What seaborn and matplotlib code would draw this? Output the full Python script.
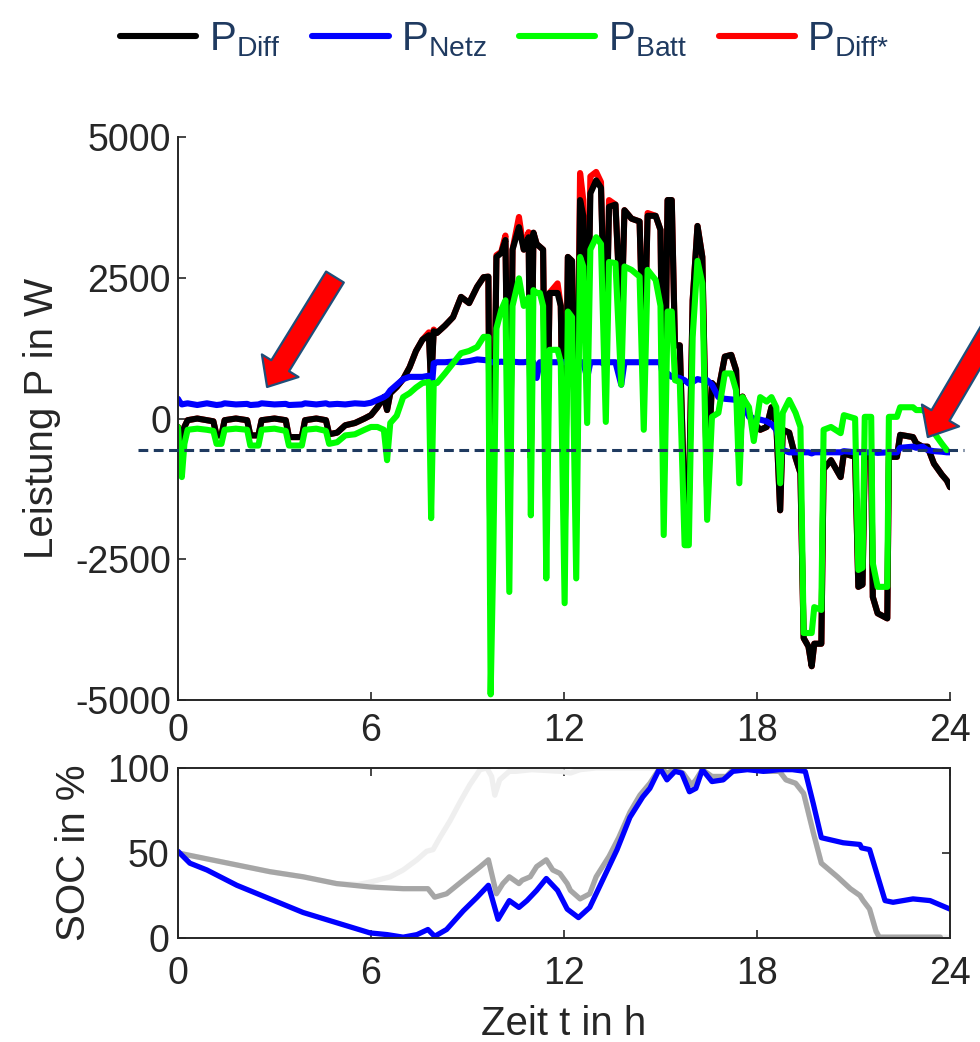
import numpy as np
import pandas as pd
import matplotlib
matplotlib.use("Agg")
import matplotlib.pyplot as plt
from matplotlib.lines import Line2D
import seaborn as sns

# ---------------- data: power (W) over time (h) ----------------
t_p = [0.00, 0.05, 0.12, 0.20, 0.30, 0.60, 0.90, 1.10, 1.20, 1.35, 1.45, 1.80, 2.15, 2.25, 2.50,
       2.60, 3.00, 3.35, 3.45, 3.85, 3.95, 4.30, 4.60, 4.70, 4.95, 5.20, 5.50, 5.80, 6.00, 6.20,
       6.40, 6.50, 6.60, 6.80, 7.00, 7.20, 7.40, 7.60, 7.80, 7.87, 7.95, 8.05, 8.30, 8.55, 8.80,
       9.05, 9.30, 9.50, 9.65, 9.72, 9.80, 9.90, 10.05, 10.18, 10.30, 10.40, 10.60, 10.75, 10.90,
       10.97, 11.05, 11.15, 11.25, 11.35, 11.45, 11.55, 11.80, 11.90, 12.02, 12.12, 12.25, 12.38,
       12.50, 12.60, 12.72, 12.82, 13.00, 13.15, 13.30, 13.40, 13.60, 13.78, 13.88, 14.10, 14.35,
       14.48, 14.60, 14.85, 15.00, 15.10, 15.22, 15.35, 15.45, 15.60, 15.75, 15.88, 16.00, 16.15,
       16.30, 16.45, 16.60, 16.80, 17.00, 17.20, 17.35, 17.45, 17.55, 17.75, 17.90, 18.10, 18.30,
       18.45, 18.60, 18.72, 18.80, 19.00, 19.20, 19.35, 19.45, 19.60, 19.70, 19.78, 20.00, 20.07,
       20.30, 20.60, 20.70, 21.05, 21.15, 21.28, 21.35, 21.55, 21.60, 21.75, 22.05, 22.10, 22.35,
       22.45, 22.85, 22.95, 23.15, 23.30, 23.50, 23.75, 23.90, 24.00]

p_diff = [-150, -300, -450, -150, -30, 0, -30, -50, -300, -300, -30, 0, -30, -300, -300,
          -30, 0, -30, -330, -330, -30, 0, -30, -280, -250, -120, -80, 0, 60, 200,
          380, 150, 450, 560, 700, 910, 1200, 1400, 1480, 560, 1550, 1520, 1650, 1800, 2160,
          2050, 2340, 2510, 2520, -3300, -1500, 2870, 2940, 3170, -2100, 3000, 3400, 3000, 3220,
          -700, 3300, 3100, 3050, 3000, -1800, 2230, 2230, 2000, -2300, 2870, 2800, -1800,
          3880, 3600, 650, 4000, 4230, 4100, 900, 3760, 3800, 1600, 3700, 3550, 3500,
          800, 3600, 3600, 3350, -1300, 3880, 3880, 1300, 1300, -1600, -1500, 2100, 3420,
          2870, -1300, 630, 500, 1100, 1130, 860, -800, 390, 100, -80, -200, -150,
          200, -100, -1630, -200, -250, -700, -970, -3900, -4050, -4400, -4000, -4000, -900,
          -740, -1040, -620, -680, -2990, -2950, -680, -680, -3170, -3460, -3550, -680, -680,
          -290, -330, -440, -500, -500, -800, -1000, -1100, -1220]

p_diff_star = [-150, -300, -450, -150, -30, 0, -30, -50, -300, -300, -30, 0, -30, -300, -300,
               -30, 0, -30, -330, -330, -30, 0, -30, -280, -250, -120, -80, 0, 60, 200,
               380, 150, 450, 560, 700, 910, 1200, 1400, 1530, 600, 1580, 1520, 1650, 1800, 2160,
               2050, 2340, 2510, 2520, -3300, -1500, 2900, 2960, 3250, -2100, 3000, 3580, 3000, 3310,
               -700, 3300, 3100, 3050, 3000, -1800, 2230, 2400, 2000, -2300, 2870, 2800, -1800,
               4360, 3880, 650, 4300, 4380, 4200, 900, 3880, 3800, 1600, 3700, 3550, 3500,
               800, 3650, 3600, 3350, -1300, 3880, 3880, 1300, 1300, -1600, -1500, 2100, 3420,
               2870, -1300, 630, 500, 1100, 1130, 860, -800, 390, 100, -80, -200, -150,
               200, -100, -1630, -200, -250, -700, -970, -3900, -4050, -4400, -4000, -4000, -900,
               -740, -1040, -620, -680, -2990, -2950, -680, -680, -3170, -3460, -3550, -680, -680,
               -290, -330, -440, -500, -500, -800, -1000, -1100, -1220]

p_netz = [350, 300, 250, 260, 270, 240, 270, 250, 240, 250, 270, 250, 260, 240, 250,
          270, 250, 260, 240, 250, 270, 250, 270, 250, 260, 250, 270, 260, 280, 330,
          380, 420, 500, 600, 700, 740, 740, 740, 760, 400, 980, 1000, 1000, 1010, 1000,
          1020, 1050, 1040, 1030, 1000, 1000, 1000, 1010, 1000, 1000, 1010, 1000, 1000, 1010,
          1000, 1000, 720, 1000, 1000, 1000, 1000, 1000, 1000, 1000, 1000, 1000, 1000,
          1000, 1000, 720, 1000, 1000, 1000, 950, 1000, 1000, 600, 1000, 1000, 1000,
          1000, 1000, 1000, 1000, 680, 800, 740, 740, 720, 680, 620, 650, 700,
          680, 680, 600, 380, 350, 340, 330, 330, 320, 30, 0, -20, -50,
          -100, -200, -450, -560, -600, -600, -600, -600, -600, -620, -600, -600, -600,
          -600, -600, -580, -600, -600, -600, -600, -600, -600, -610, -600, -600, -600,
          -520, -500, -520, -500, -560, -580, -590, -600, -600]

p_batt = [-150, -600, -1040, -450, -200, -180, -200, -220, -450, -450, -200, -180, -200, -480, -480,
          -200, -180, -220, -480, -480, -200, -180, -220, -450, -420, -300, -280, -200, -150, -150,
          -200, -740, -80, 50, 380, 450, 550, 630, 650, -1770, 630, 630, 800, 980, 1160,
          1200, 1270, 1450, 1450, -4900, -2500, 1600, 1930, 2100, -3080, 2000, 2490, 2000, 2150,
          -1720, 2280, 2230, 2230, 2000, -2840, 1220, 1220, 1000, -3280, 1900, 1800, -2840,
          2870, 2700, -80, 3000, 3220, 3100, -60, 2780, 2760, 600, 2700, 2640, 2520,
          -200, 2640, 2460, 2000, -2070, 1900, 1900, 680, 650, -2250, -2250, 1450, 2800,
          2400, -1800, 30, 100, 800, 800, 500, -1150, 380, 200, -400, 380, 300,
          380, 200, -1150, 100, 330, 100, -150, -3810, -3810, -3810, -3350, -3400, -200,
          -150, -260, 60, 0, -2690, -2650, 30, 30, -2570, -2990, -2990, 30, 30,
          200, 200, 150, 150, 90, -250, -450, -560, np.nan]

p_ref_line = -560  # dashed reference level

# ---------------- data: state of charge (%) ----------------
t_soc_blue = [0, 0.37, 0.9, 1.83, 2.86, 3.89, 4.93, 5.97, 6.5, 7.0, 7.43, 7.77, 7.98, 8.35, 8.87,
              9.3, 9.65, 9.95, 10.3, 10.6, 10.85, 11.15, 11.45, 11.8, 12.1, 12.45, 12.8, 13.2,
              13.65, 14.05, 14.45, 14.67, 14.98, 15.2, 15.45, 15.66, 15.9, 16.1, 16.3, 16.6,
              16.95, 17.25, 17.7, 18.2, 18.7, 19.1, 19.5, 19.75, 20.0, 20.68, 21.2, 21.25, 21.5,
              21.98, 22.23, 22.85, 23.38, 24.0]
soc_blue = [51, 44, 40, 31, 23, 15, 9, 3, 2, 0.5, 2, 5, 1, 5, 16,
            24, 31, 11, 22, 18, 22, 28, 35, 28, 17, 12, 18, 34,
            52, 71, 83, 88, 100, 93, 98, 97, 86, 88, 99, 92,
            93, 98, 99, 98, 99, 99, 98, 79, 59, 56, 55, 53, 52,
            22, 21, 23, 22, 17]

t_soc_gray = [0, 0.78, 1.82, 2.86, 3.89, 4.93, 5.97, 7.0, 7.77, 7.98, 8.35, 8.87, 9.4, 9.65,
              9.9, 10.1, 10.3, 10.6, 10.7, 10.95, 11.15, 11.45, 11.65, 11.87, 12.1, 12.2, 12.5,
              12.8, 13.0, 13.2, 13.4, 13.7, 14.05, 14.36, 14.67, 14.98, 15.2, 15.45, 15.7, 15.97,
              16.1, 16.3, 16.6, 17.05, 17.25, 17.7, 18.3, 18.7, 18.9, 19.2, 19.45, 19.75, 20.0,
              20.5, 20.9, 21.2, 21.3, 21.5, 21.7, 21.8, 23.7]
soc_gray = [50, 47, 43, 39, 36, 32, 30, 29, 29, 24, 26, 34, 42, 46,
            26, 32, 36, 32, 34, 36, 42, 46, 40, 38, 32, 28, 23,
            26, 36, 42, 48, 59, 74, 84, 91, 100, 97, 99, 97, 90,
            93, 99, 95, 95, 99, 100, 98, 98, 93, 91, 85, 62, 44,
            36, 29, 25, 22, 17, 4, 0.5, 0.5]

t_soc_light = [0, 0.78, 1.82, 2.86, 3.89, 4.93, 5.6, 6.0, 6.6, 7.0, 7.43, 7.73, 7.93, 8.14, 8.46,
               8.77, 9.07, 9.39, 9.6, 9.75, 9.85, 10.0, 10.3, 10.5, 11.0, 11.9, 12.2, 12.5, 13.0,
               14.98, 15.2, 15.45, 15.7, 15.97, 16.1, 16.3, 16.6, 17.05, 17.25, 17.7, 18.3, 18.7,
               18.9, 19.2, 19.45, 19.75, 20.0, 20.5, 20.9, 21.2, 21.3, 21.5, 21.7, 21.8, 24.0]
soc_light = [50, 47, 43, 39, 36, 32, 31.5, 33, 36, 40, 46, 51, 52, 59, 69,
             80, 90, 99, 100, 95, 84, 93, 98, 98, 99, 98, 97, 99, 100,
             100, 97, 99, 97, 90, 93, 99, 95, 95, 99, 100, 98, 98,
             93, 91, 85, 62, 44, 36, 29, 25, 22, 17, 4, 0.5, 0.5]

x_ticks = [0, 6, 12, 18, 24]
p_ticks = [-5000, -2500, 0, 2500, 5000]
soc_ticks = [0, 50, 100]
legend_labels = [r"$\mathrm{P}_{\mathrm{Diff}}$", r"$\mathrm{P}_{\mathrm{Netz}}$",
                 r"$\mathrm{P}_{\mathrm{Batt}}$", r"$\mathrm{P}_{\mathrm{Diff}{*}}$"]

# ---------------- style ----------------
sns.set_theme(style="white")
plt.rcParams["font.family"] = ["Liberation Sans", "DejaVu Sans"]
plt.rcParams["mathtext.fontset"] = "custom"
plt.rcParams["mathtext.rm"] = "Liberation Sans"
plt.rcParams["mathtext.it"] = "Liberation Sans:italic"
plt.rcParams["axes.unicode_minus"] = False

TXT = "#262626"
NAVY = "#1f3a60"
C_DIFF, C_NETZ, C_BATT, C_STAR = "#000000", "#0000ff", "#00ff00", "#ff0000"
LW = 4.4

fig = plt.figure(figsize=(9.8, 10.42), dpi=100)
ax1 = fig.add_axes([0.1816, 0.3282, 0.7878, 0.5403])
ax2 = fig.add_axes([0.1816, 0.0998, 0.7878, 0.1632])

df_p = pd.DataFrame({"t": t_p, "diff": p_diff, "star": p_diff_star,
                     "netz": p_netz, "batt": p_batt})

for col, c in [("star", C_STAR), ("diff", C_DIFF), ("netz", C_NETZ), ("batt", C_BATT)]:
    sns.lineplot(data=df_p, x="t", y=col, ax=ax1, color=c, linewidth=LW,
                 estimator=None, sort=False, legend=False,
                 solid_joinstyle="round", solid_capstyle="round")

ax1.plot([-1.25, 24.45], [p_ref_line, p_ref_line], color=NAVY, lw=2.2,
         linestyle=(0, (3.2, 1.8)), clip_on=False, zorder=5)

ax1.set_xlim(0, 24)
ax1.set_ylim(-5000, 5000)
ax1.set_xticks(x_ticks)
ax1.set_yticks(p_ticks)
ax1.set_yticklabels([str(v) for v in p_ticks])
ax1.set_xlabel("")
ax1.set_ylabel("Leistung P in W", fontsize=29, color=TXT, labelpad=10)
for s in ["top", "right"]:
    ax1.spines[s].set_visible(False)
for s in ["left", "bottom"]:
    ax1.spines[s].set_color(TXT)
    ax1.spines[s].set_linewidth(1.4)
ax1.tick_params(axis="both", direction="in", length=5.5, width=1.2, colors=TXT,
                labelsize=27, left=True, bottom=True)
ax1.tick_params(axis="x", pad=9)
ax1.tick_params(axis="y", pad=5)

# arrows
arrow_kw = dict(arrowstyle="simple,head_length=1.8,head_width=3.1,tail_width=1.5",
                fc="#ff0000", ec="#1f4e79", lw=1.6, mutation_scale=10,
                shrinkA=0, shrinkB=0)
ax1.annotate("", xy=(2.77, 560), xytext=(4.88, 2513), arrowprops=arrow_kw,
             annotation_clip=False, zorder=6)
ax1.annotate("", xy=(23.31, -329), xytext=(25.5, 1800), arrowprops=arrow_kw,
             annotation_clip=False, zorder=6)

# SOC
df_l = pd.DataFrame({"t": t_soc_light, "soc": soc_light})
df_g = pd.DataFrame({"t": t_soc_gray, "soc": soc_gray})
df_b = pd.DataFrame({"t": t_soc_blue, "soc": soc_blue})
sns.lineplot(data=df_l, x="t", y="soc", ax=ax2, color="#efefef", linewidth=3.8,
             estimator=None, sort=False, legend=False)
sns.lineplot(data=df_g, x="t", y="soc", ax=ax2, color="#a6a6a6", linewidth=3.8,
             estimator=None, sort=False, legend=False)
sns.lineplot(data=df_b, x="t", y="soc", ax=ax2, color="#0000ff", linewidth=3.8,
             estimator=None, sort=False, legend=False)
ax2.set_xlim(0, 24)
ax2.set_ylim(0, 100)
ax2.set_xticks(x_ticks)
ax2.set_yticks(soc_ticks)
ax2.set_xlabel("Zeit t in h", fontsize=29, color=TXT, labelpad=9)
ax2.set_ylabel("SOC in %", fontsize=29, color=TXT, labelpad=10)
for s in ax2.spines.values():
    s.set_visible(True)
    s.set_color(TXT)
    s.set_linewidth(1.4)
ax2.tick_params(axis="both", direction="in", length=5.5, width=1.2, colors=TXT,
                labelsize=27, left=True, bottom=True, top=True, right=True)
ax2.tick_params(axis="x", pad=13)
ax2.tick_params(axis="y", pad=6)

# legend
handles = [Line2D([], [], color=c, lw=4.4) for c in (C_DIFF, C_NETZ, C_BATT, C_STAR)]
fig.legend(handles, legend_labels, loc="center", bbox_to_anchor=(0.515, 0.962), ncol=4,
           frameon=False, fontsize=29, labelcolor=NAVY, handlelength=1.9,
           handletextpad=0.3, columnspacing=0.8, borderaxespad=0)

fig.savefig("out.png", dpi=100)
